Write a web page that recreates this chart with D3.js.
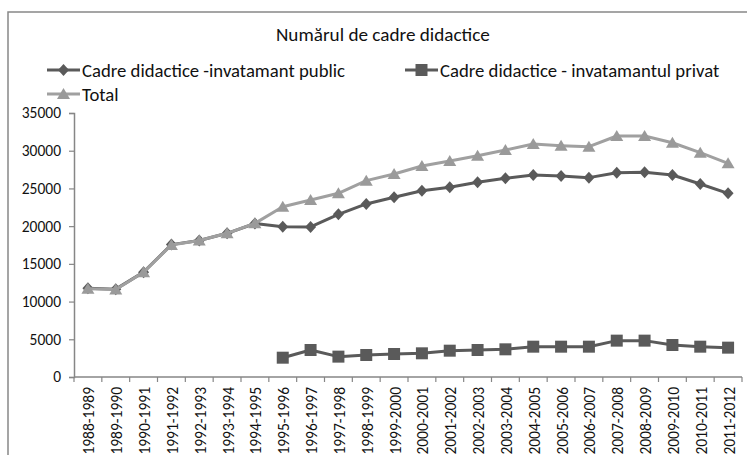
<!DOCTYPE html>
<html>
<head>
<meta charset="utf-8">
<script src="https://cdn.jsdelivr.net/npm/d3@7"></script>
<style>
  html, body { margin: 0; padding: 0; background: #fff; }
  svg { display: block; font-family: Carlito, Lato, "Liberation Sans", sans-serif; }
</style>
</head>
<body>
<svg id="chart" width="747" height="455"></svg>
<script>
const categories = ["1988-1989","1989-1990","1990-1991","1991-1992","1992-1993","1993-1994","1994-1995","1995-1996","1996-1997","1997-1998","1998-1999","1999-2000","2000-2001","2001-2002","2002-2003","2003-2004","2004-2005","2005-2006","2006-2007","2007-2008","2008-2009","2009-2010","2010-2011","2011-2012"];
const publicValues = [11750, 11650, 13900, 17550, 18100, 19050, 20350, 19930, 19890, 21570, 22940, 23820, 24700, 25150, 25810, 26340, 26780, 26650, 26430, 27090, 27130, 26780, 25590, 24350];
const privateValues = [null, null, null, null, null, null, null, 2560, 3580, 2700, 2920, 3050, 3140, 3490, 3580, 3670, 4020, 4020, 4020, 4820, 4820, 4240, 4020, 3890];
const totalValues = [11700, 11600, 13900, 17500, 18100, 19050, 20370, 22580, 23470, 24350, 26030, 26910, 27970, 28640, 29340, 30090, 30890, 30670, 30530, 31950, 31950, 31060, 29740, 28330];
const yTicks = [0, 5000, 10000, 15000, 20000, 25000, 30000, 35000];
const chartTitle = "Numărul de cadre didactice";
const seriesNames = ["Cadre didactice -invatamant public", "Cadre didactice - invatamantul privat", "Total"];

const svg = d3.select("#chart");
const pL = 74, pR = 742, pT = 113, pB = 377;

const x = d3.scaleBand().domain(categories).range([pL, pR]).padding(0);
const y = d3.scaleLinear().domain([0, 35000]).range([pB, pT]);
const cx = c => x(c) + x.bandwidth() / 2;

// chart border
svg.append("path").attr("d", "M8,455V12H747").attr("fill", "none").attr("stroke", "#888").attr("stroke-width", 1.5);

function fit(sel, target) {
  const w = sel.node().getComputedTextLength();
  const fs = parseFloat(sel.attr("font-size"));
  const nfs = fs * target / w;
  sel.attr("font-size", nfs);
  return nfs;
}

// title
const t = svg.append("text").attr("x", 276).attr("y", 41).attr("font-size", 17).attr("fill", "#111").text(chartTitle);
fit(t, 214);

// axes
const yAxis = svg.append("g").attr("transform", `translate(${pL},0)`)
  .call(d3.axisLeft(y).tickValues(yTicks).tickSize(5).tickPadding(8).tickFormat(d => d));
yAxis.select(".domain").attr("stroke", "#868686").attr("stroke-width", 1.5);
yAxis.selectAll(".tick line").attr("stroke", "#868686").attr("stroke-width", 1.2);
yAxis.selectAll("text").attr("font-size", 15.5).attr("fill", "#111").attr("font-family", "Carlito, Lato, sans-serif");

const xg = svg.append("g");
xg.append("line").attr("x1", pL).attr("x2", pR).attr("y1", pB).attr("y2", pB)
  .attr("stroke", "#868686").attr("stroke-width", 1.5);
const bounds = categories.map(c => x(c)).concat([x(categories[categories.length - 1]) + x.bandwidth()]);
xg.selectAll("line.tk").data(bounds).join("line").attr("class", "tk")
  .attr("x1", d => d).attr("x2", d => d).attr("y1", pB).attr("y2", pB + 5)
  .attr("stroke", "#868686").attr("stroke-width", 1.2);
xg.selectAll("text").data(categories).join("text")
  .attr("transform", d => `translate(${cx(d) + 1},${pB + 10}) rotate(-90)`)
  .attr("text-anchor", "end").attr("dy", "0.35em")
  .attr("font-size", 15.5).attr("fill", "#111").text(d => d);

// series
const colors = { pub: "#5a5a5a", priv: "#5a5a5a", tot: "#a0a0a0", totMarker: "#9a9a9a" };
const diamond = "M0,-6L5.5,0L0,6L-5.5,0Z";
const square = "M-6,-6H6V6H-6Z";
const triangle = "M0,-6L6.5,5H-6.5Z";

function drawSeries(values, color, markerColor, markerPath) {
  const pts = categories.map((c, i) => ({ c, v: values[i] }));
  const line = d3.line().defined(d => d.v != null).x(d => cx(d.c)).y(d => y(d.v));
  svg.append("path").datum(pts).attr("d", line).attr("fill", "none")
    .attr("stroke", color).attr("stroke-width", 3).attr("stroke-linejoin", "round");
  svg.append("g").selectAll("path").data(pts.filter(d => d.v != null)).join("path")
    .attr("d", markerPath).attr("transform", d => `translate(${cx(d.c)},${y(d.v)})`)
    .attr("fill", markerColor);
}
drawSeries(publicValues, colors.pub, colors.pub, diamond);
drawSeries(privateValues, colors.priv, colors.priv, square);
drawSeries(totalValues, colors.tot, colors.totMarker, triangle);

// legend
const legend = [
  { name: seriesNames[0], x: 47, y: 70, color: colors.pub, mk: colors.pub, path: diamond },
  { name: seriesNames[1], x: 405, y: 70, color: colors.priv, mk: colors.priv, path: square },
  { name: seriesNames[2], x: 47, y: 94, color: colors.tot, mk: colors.totMarker, path: triangle }
];
let legendFs = 17;
legend.forEach((L, i) => {
  const g = svg.append("g");
  g.append("line").attr("x1", L.x).attr("x2", L.x + 33).attr("y1", L.y).attr("y2", L.y)
    .attr("stroke", L.color).attr("stroke-width", 3);
  g.append("path").attr("d", L.path).attr("transform", `translate(${L.x + 16.5},${L.y})`).attr("fill", L.mk);
  const tx = g.append("text").attr("x", L.x + 35).attr("y", L.y).attr("dy", "0.35em")
    .attr("font-size", legendFs).attr("fill", "#111").text(L.name);
  if (i === 0) legendFs = fit(tx, 263);
});
</script>
</body>
</html>
